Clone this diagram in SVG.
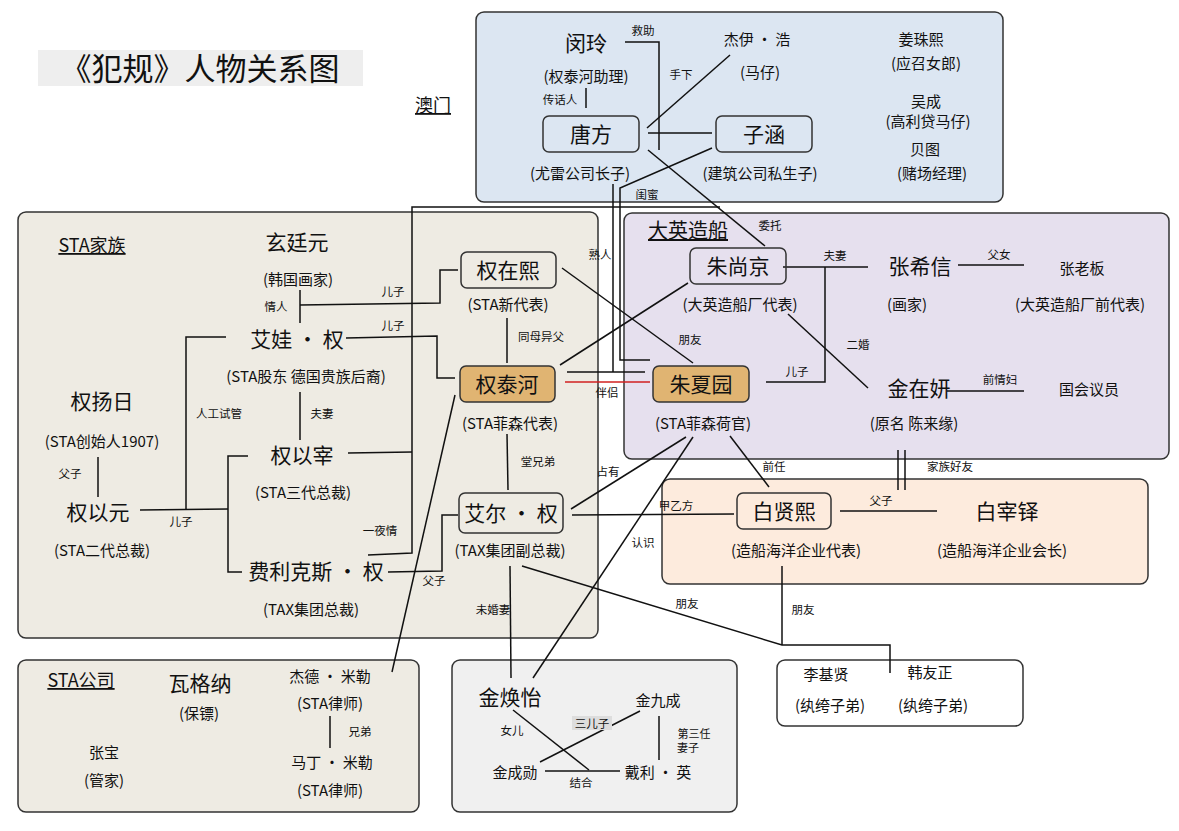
<svg xmlns="http://www.w3.org/2000/svg" width="1179" height="831" viewBox="0 0 1179 831">
<style>
text{font-family:"Noto Sans CJK SC","Noto Sans",sans-serif;fill:#111;text-anchor:middle}
.n{font-size:21px}
.s{font-size:15px}
.l{font-size:11.5px}
.g{stroke:#333;stroke-width:1.5}
.b{fill:none;stroke:#333;stroke-width:1.5}
.o{fill:#e0b472;stroke:#333;stroke-width:1.5}
.c{fill:none;stroke:#111;stroke-width:1.5}
.u{text-decoration:underline;font-size:18px}
</style>
<rect width="1179" height="831" fill="#fff"/>
<g id="groups">
<rect class="g" x="476" y="12" width="527" height="190" rx="8" fill="#dce6f2"/>
<rect class="g" x="18" y="212" width="580" height="426" rx="8" fill="#eeebe3"/>
<rect class="g" x="624" y="213" width="545" height="246" rx="8" fill="#e6e0ee"/>
<rect class="g" x="662" y="479" width="486" height="105" rx="8" fill="#fdebdd"/>
<rect class="g" x="18" y="660" width="401" height="152" rx="8" fill="#eeebe3"/>
<rect class="g" x="452" y="660" width="285" height="152" rx="8" fill="#f0f0f0"/>
<rect class="g" x="777" y="660" width="246" height="66" rx="8" fill="#fff"/>
</g>
<rect x="38" y="50" width="325" height="36" fill="#eeeeee"/>
<text x="200" y="80" style="font-size:31px">《犯规》人物关系图</text>
<text x="433" y="112" class="u">澳门</text>
<text x="92" y="252" class="u">STA家族</text>
<text x="688" y="238" class="u" style="font-size:20px">大英造船</text>
<text x="81" y="687" class="u">STA公司</text>
<g id="connectors">
<polyline class="c" points="625,42 659,42 659,150"/>
<line class="c" x1="586" y1="88" x2="586" y2="108"/>
<line class="c" x1="647" y1="128" x2="730" y2="55"/>
<line class="c" x1="648" y1="133" x2="712" y2="133"/>
<polyline class="c" points="613,184 613,372"/>
<line class="c" x1="567" y1="372" x2="645" y2="372"/>
<polyline class="c" points="712,148 620,188 620,360 650,360"/>
<line class="c" x1="648" y1="150" x2="765" y2="246"/>
<polyline class="c" points="368,555 412,553 412,207 720,207"/>
<line class="c" x1="348" y1="453" x2="412" y2="452"/>
<line class="c" x1="300" y1="290" x2="300" y2="323"/>
<polyline class="c" points="300,305 440,303 440,270 458,270"/>
<polyline class="c" points="346,338 437,336 437,378 455,378"/>
<polyline class="c" points="226,337 186,337 186,510"/>
<line class="c" x1="300" y1="392" x2="300" y2="440"/>
<line class="c" x1="140" y1="510" x2="228" y2="509"/>
<polyline class="c" points="248,456 228,456 228,572 242,572"/>
<line class="c" x1="98" y1="457" x2="98" y2="497"/>
<polyline class="c" points="388,572 442,571 442,515 458,515"/>
<line class="c" x1="507" y1="318" x2="507" y2="363"/>
<line class="c" x1="507" y1="434" x2="508" y2="490"/>
<line class="c" x1="562" y1="268" x2="693" y2="363"/>
<line class="c" x1="560" y1="365" x2="688" y2="283"/>
<line x1="565" y1="382" x2="650" y2="382" stroke="#d02020" stroke-width="1.5"/>
<polyline class="c" points="766,382 825,382 825,267"/>
<line class="c" x1="783" y1="267" x2="868" y2="267"/>
<line class="c" x1="788" y1="314" x2="868" y2="388"/>
<line class="c" x1="958" y1="265" x2="1024" y2="265"/>
<line class="c" x1="947" y1="391" x2="1024" y2="391"/>
<line class="c" x1="898" y1="450" x2="898" y2="490"/>
<line class="c" x1="905" y1="450" x2="905" y2="490"/>
<line class="c" x1="686" y1="437" x2="571" y2="509"/>
<line class="c" x1="693" y1="437" x2="533" y2="678"/>
<line class="c" x1="730" y1="436" x2="769" y2="487"/>
<line class="c" x1="572" y1="515" x2="734" y2="514"/>
<line class="c" x1="840" y1="511" x2="937" y2="511"/>
<polyline class="c" points="522,566 782,645 890,645 890,673"/>
<line class="c" x1="782" y1="566" x2="782" y2="645"/>
<line class="c" x1="510" y1="566" x2="511" y2="678"/>
<line class="c" x1="455" y1="395" x2="392" y2="672"/>
<line class="c" x1="330" y1="716" x2="330" y2="748"/>
<line class="c" x1="513" y1="710" x2="589" y2="770"/>
<line class="c" x1="540" y1="762" x2="640" y2="711"/>
<line class="c" x1="659" y1="716" x2="659" y2="760"/>
<line class="c" x1="545" y1="771" x2="620" y2="771"/>
</g>
<g id="labels" class="l">
<text class="l" x="643" y="35">救助</text>
<text class="l" x="560" y="104">传话人</text>
<text class="l" x="681" y="79">手下</text>
<text class="l" x="600" y="259">熟人</text>
<text class="l" x="647" y="199">闺蜜</text>
<text class="l" x="770" y="230">委托</text>
<text class="l" x="276" y="311">情人</text>
<text class="l" x="393" y="296">儿子</text>
<text class="l" x="393" y="330">儿子</text>
<text class="l" x="219" y="418">人工试管</text>
<text class="l" x="322" y="418">夫妻</text>
<text class="l" x="181" y="526">儿子</text>
<text class="l" x="70" y="478">父子</text>
<text class="l" x="434" y="585">父子</text>
<text class="l" x="380" y="535">一夜情</text>
<text class="l" x="541" y="341">同母异父</text>
<text class="l" x="538" y="466">堂兄弟</text>
<text class="l" x="690" y="344">朋友</text>
<text class="l" x="607" y="397">伴侣</text>
<text class="l" x="835" y="260">夫妻</text>
<text class="l" x="797" y="376">儿子</text>
<text class="l" x="858" y="349">二婚</text>
<text class="l" x="999" y="259">父女</text>
<text class="l" x="1000" y="384">前情妇</text>
<text class="l" x="950" y="471">家族好友</text>
<text class="l" x="608" y="476">占有</text>
<text class="l" x="643" y="547">认识</text>
<text class="l" x="774" y="471">前任</text>
<text class="l" x="676" y="510">甲乙方</text>
<text class="l" x="881" y="505">父子</text>
<text class="l" x="687" y="608">朋友</text>
<text class="l" x="803" y="614">朋友</text>
<text class="l" x="493" y="614">未婚妻</text>
<text class="l" x="360" y="736">兄弟</text>
<text class="l" x="512" y="735">女儿</text>
<rect x="572" y="716" width="40" height="14" fill="#ddd"/>
<text class="l" x="592" y="728">三儿子</text>
<text style="font-size:11px" x="694" y="738">第三任</text>
<text style="font-size:11px" x="688" y="752">妻子</text>
<text class="l" x="581" y="787">结合</text>
</g>
<g id="macau-nodes">
<g id="minling"><text class="n" x="586" y="51">闵玲</text><text class="s" x="586" y="82">(权泰河助理)</text></g>
<g id="jieyi"><text class="s" x="757" y="45">杰伊 · 浩</text><text class="s" x="760" y="78">(马仔)</text></g>
<g id="jiang"><text class="s" x="921" y="45">姜珠熙</text><text class="s" x="926" y="69">(应召女郎)</text></g>
<g id="wucheng"><text class="s" x="926" y="107">吴成</text><text class="s" x="928" y="127">(高利贷马仔)</text></g>
<g id="beitu"><text class="s" x="925" y="155">贝图</text><text class="s" x="932" y="179">(赌场经理)</text></g>
<g id="tangfang"><rect class="b" x="543" y="116" width="96" height="36" rx="6"/><text class="n" x="591" y="142">唐方</text><text class="s" x="580" y="179">(尤雷公司长子)</text></g>
<g id="zihan"><rect class="b" x="716" y="116" width="96" height="36" rx="6"/><text class="n" x="764" y="142">子涵</text><text class="s" x="760" y="179">(建筑公司私生子)</text></g>
</g>
<g id="sta-nodes">
<g id="xuan"><text class="n" x="297" y="250">玄廷元</text><text class="s" x="298" y="285">(韩国画家)</text></g>
<g id="aiwa"><text class="n" x="297" y="347">艾娃 · 权</text><text class="s" x="306" y="382">(STA股东  德国贵族后裔)</text></g>
<g id="yangri"><text class="n" x="102" y="409">权扬日</text><text class="s" x="102" y="447">(STA创始人1907)</text></g>
<g id="yizai"><text class="n" x="302" y="463">权以宰</text><text class="s" x="303" y="498">(STA三代总裁)</text></g>
<g id="yiyuan"><text class="n" x="98" y="520">权以元</text><text class="s" x="102" y="556">(STA二代总裁)</text></g>
<g id="feilikesi"><text class="n" x="316" y="579">费利克斯 · 权</text><text class="s" x="311" y="615">(TAX集团总裁)</text></g>
<g id="zaixi"><rect class="b" x="461" y="252" width="95" height="36" rx="6"/><text class="n" x="508" y="278">权在熙</text><text class="s" x="508" y="310">(STA新代表)</text></g>
<g id="taihe"><rect class="o" x="460" y="366" width="95" height="36" rx="6"/><text class="n" x="507" y="392">权泰河</text><text class="s" x="510" y="429">(STA菲森代表)</text></g>
<g id="aier"><rect class="b" x="459" y="493" width="104" height="40" rx="6"/><text class="n" x="511" y="521">艾尔 · 权</text><text class="s" x="510" y="556">(TAX集团副总裁)</text></g>
</g>
<g id="daying-nodes">
<g id="xiayuan"><rect class="o" x="653" y="366" width="96" height="36" rx="6"/><text class="n" x="701" y="392">朱夏园</text><text class="s" x="703" y="429">(STA菲森荷官)</text></g>
<g id="shangjing"><rect class="b" x="690" y="248" width="96" height="36" rx="6"/><text class="n" x="738" y="274">朱尚京</text><text class="s" x="740" y="310">(大英造船厂代表)</text></g>
<g id="xixin"><text class="n" x="920" y="274">张希信</text><text class="s" x="907" y="310">(画家)</text></g>
<g id="laoban"><text class="s" x="1082" y="274">张老板</text><text class="s" x="1080" y="310">(大英造船厂前代表)</text></g>
<g id="zaiyan"><text class="n" x="919" y="396">金在妍</text><text class="s" x="914" y="429">(原名  陈来缘)</text></g>
<g id="guohui"><text class="s" x="1089" y="395">国会议员</text></g>
</g>
<g id="bai-nodes">
<g id="xianxi"><rect class="b" x="737" y="493" width="94" height="36" rx="6"/><text class="n" x="784" y="519">白贤熙</text><text class="s" x="796" y="556">(造船海洋企业代表)</text></g>
<g id="zaiduo"><text class="n" x="1007" y="519">白宰铎</text><text class="s" x="1002" y="556">(造船海洋企业会长)</text></g>
</g>
<g id="other-nodes">
<g id="liji"><text class="s" x="826" y="680">李基贤</text><text class="s" x="830" y="711">(纨绔子弟)</text></g>
<g id="hanyou"><text class="s" x="930" y="678">韩友正</text><text class="s" x="933" y="711">(纨绔子弟)</text></g>
<g id="huanyi"><text class="n" x="510" y="705">金焕怡</text></g>
<g id="jiucheng"><text class="s" x="658" y="706">金九成</text></g>
<g id="chengxun"><text class="s" x="515" y="778">金成勋</text></g>
<g id="daili"><text class="s" x="658" y="778">戴利 · 英</text></g>
<g id="wagena"><text class="n" x="200" y="691">瓦格纳</text><text class="s" x="199" y="719">(保镖)</text></g>
<g id="zhangbao"><text class="s" x="104" y="758">张宝</text><text class="s" x="104" y="786">(管家)</text></g>
<g id="jiede"><text class="s" x="330" y="682">杰德 · 米勒</text><text class="s" x="330" y="709">(STA律师)</text></g>
<g id="mading"><text class="s" x="332" y="768">马丁 · 米勒</text><text class="s" x="330" y="796">(STA律师)</text></g>
</g>
</svg>
